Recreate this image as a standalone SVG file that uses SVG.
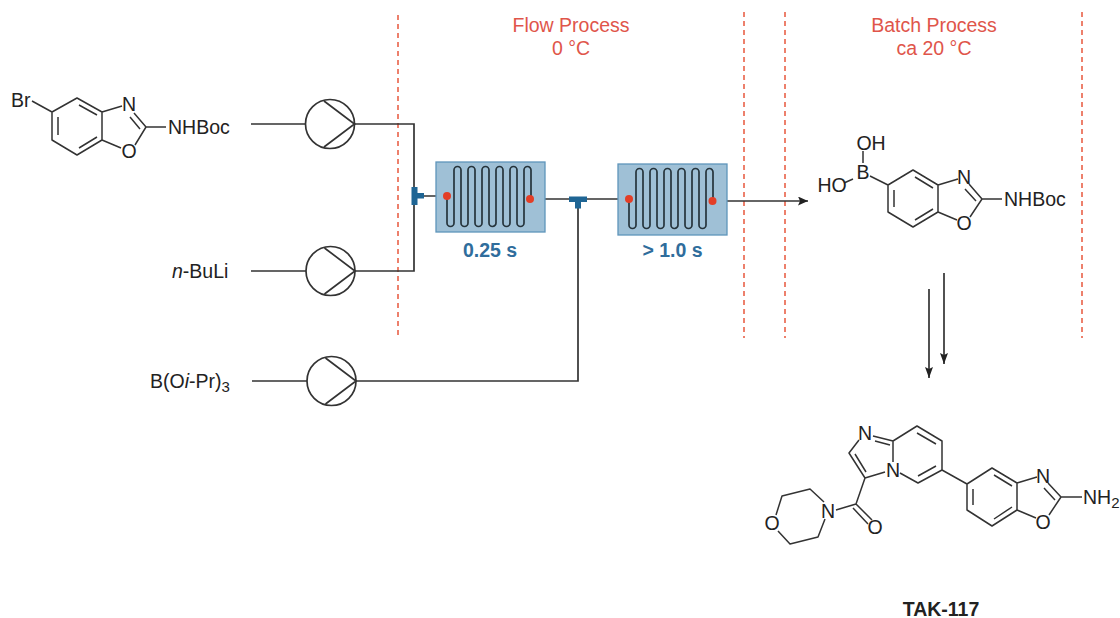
<svg xmlns="http://www.w3.org/2000/svg" width="1120" height="618" viewBox="0 0 1120 618">
<defs>
<marker id="ah" markerUnits="userSpaceOnUse" markerWidth="11" markerHeight="9" refX="10" refY="4.5" orient="auto"><path d="M0 0L10 4.5L0 9L2 4.5Z" fill="#222"/></marker>
<marker id="ad" markerUnits="userSpaceOnUse" markerWidth="12" markerHeight="9" refX="11" refY="4.5" orient="auto"><path d="M0 0.500L11 4.500L0 8.500L2 4.500Z" fill="#222"/></marker>
<path id="serp" d="M0 0V27a3.5 3.5 0 0 0 7 0V-26a3.5 3.5 0 0 1 7 0V27a3.5 3.5 0 0 0 7 0V-26a3.5 3.5 0 0 1 7 0V27a3.5 3.5 0 0 0 7 0V-26a3.5 3.5 0 0 1 7 0V27a3.5 3.5 0 0 0 7 0V-26a3.5 3.5 0 0 1 7 0V27a3.5 3.5 0 0 0 7 0V-26a3.5 3.5 0 0 1 7 0V27a3.5 3.5 0 0 0 7 0V-26a3.5 3.5 0 0 1 7 0V3"/>
<g id="pump"><circle r="24.5" fill="#fff" stroke="#333" stroke-width="1.7"/><path d="M-6 -23L24.5 0L-6 23" fill="none" stroke="#333" stroke-width="1.7"/></g>
</defs>
<style>
text{font-family:"Liberation Sans",Arial,sans-serif;fill:#222}
.t{font-size:19.5px}
.a{font-size:19.5px;text-anchor:middle}
.red{font-size:19.5px;text-anchor:middle;fill:#e0554a}
.blue{font-size:19.5px;font-weight:bold;text-anchor:middle;fill:#2f6d9c}
.dash{stroke:#e8573c;stroke-width:1.5;stroke-dasharray:5 4;fill:none}
.line{stroke:#333;stroke-width:1.7;fill:none}
.bond{stroke:#333;stroke-width:1.5;fill:none;stroke-linejoin:round}
.box{fill:#9fc0d6;stroke:#5f95bb;stroke-width:1.3}
.coil{fill:none;stroke:#26343c;stroke-width:1.7}
.dot{fill:#e33e27}
.tee{fill:#1f6594}
</style>
<rect width="1120" height="618" fill="#fff"/>

<g id="boundaries">
<line class="dash" x1="398" y1="15" x2="398" y2="338"/>
<line class="dash" x1="744" y1="12" x2="744" y2="338"/>
<line class="dash" x1="785" y1="12" x2="785" y2="338"/>
<line class="dash" x1="1082" y1="12" x2="1082" y2="338"/>
</g>
<g id="flow-label"><text class="red" x="571" y="32">Flow Process</text><text class="red" x="571" y="55">0 °C</text></g>
<g id="batch-label"><text class="red" x="934" y="32">Batch Process</text><text class="red" x="934" y="55">ca 20 °C</text></g>

<g id="connectors">
<path class="line" d="M251 124H306M355 124H414V271H355M251 271H306"/>
<path class="line" d="M252 381H307M356 381H578V199"/>
<path class="line" d="M417 196H447M530 199H629"/>
<path class="line" d="M713 201H808" marker-end="url(#ah)"/>
<path class="line" d="M944 273V364" stroke-width="1.5" marker-end="url(#ad)"/>
<path class="line" d="M929 289V378" stroke-width="1.5" marker-end="url(#ad)"/>
</g>

<g id="sm-bromide">
<path class="bond" d="M52 112L77 98L102 112V140L77 155L52 140ZM58 117V135M79 105L97 115M79 148L97 137M102 112L122 106M102 140L121 148M134 113L146 127L135 145M130 117L140 129M146 127H166M32 101L52 112"/>
<text class="t" x="11" y="107">Br</text><text class="a" x="129" y="111">N</text><text class="a" x="129" y="158">O</text><text class="t" x="168" y="134">NHBoc</text>
</g>
<g id="reagent-nBuLi"><text class="t" x="172" y="278"><tspan font-style="italic">n</tspan>-BuLi</text></g>
<g id="reagent-borate"><text class="t" x="150" y="388">B(O<tspan font-style="italic">i</tspan>-Pr)<tspan font-size="15" dy="4">3</tspan></text></g>

<g id="pump-1"><use href="#pump" x="330" y="124"/></g>
<g id="pump-2"><use href="#pump" x="330.500" y="271"/></g>
<g id="pump-3"><use href="#pump" x="331.500" y="381"/></g>

<g id="tee-1"><rect class="tee" x="411.500" y="187" width="6" height="18"/><rect class="tee" x="416" y="193" width="8" height="5.500"/></g>
<g id="tee-2"><rect class="tee" x="569" y="196.500" width="18" height="5.500"/><rect class="tee" x="575" y="200" width="6" height="8.500"/></g>

<g id="reactor-1">
<rect class="box" x="436" y="162" width="109" height="70"/>
<use href="#serp" x="447" y="196" class="coil"/>
<circle class="dot" cx="447" cy="196" r="4"/><circle class="dot" cx="530" cy="199" r="4"/>
<text class="blue" x="490" y="257">0.25 s</text>
</g>
<g id="reactor-2">
<rect class="box" x="618" y="164" width="109" height="71"/>
<use href="#serp" x="629" y="198" class="coil"/>
<circle class="dot" cx="629" cy="199" r="4"/><circle class="dot" cx="712.500" cy="201" r="4"/>
<text class="blue" x="672.500" y="257">&gt; 1.0 s</text>
</g>

<g id="boronic-acid">
<path class="bond" d="M888 185L913 170L938 185V212L913 227L888 212ZM894 190V207M915 177L933 188M915 220L933 209M938 185L958 179M938 212L957 220M969 184L982 199L970 217M965 189L976 201M982 199H1002M870 176L888 185M863 163V151M853 179L844 183"/>
<text class="a" x="863" y="179">B</text><text class="a" x="871" y="150">OH</text><text class="a" x="832" y="192">HO</text>
<text class="a" x="964" y="184">N</text><text class="a" x="964" y="230">O</text><text class="t" x="1004" y="206">NHBoc</text>
</g>

<g id="tak-117">
<path class="bond" d="M893 441L917 426L942 441V470L918 483L900 473M893 441V462M917 433L936 444M918 476L936 466M873 436L893 441M875 441L890 445M859 440L849 453L865 478L885 472M855 454L866 472M865 478L856 504L872 520M853 508L868 524M856 504L836 510M942 470L967 484M967 484L992 468L1017 483V510L992 526L967 510ZM973 489V505M994 475L1012 486M994 519L1012 507M1017 483L1037 477M1017 510L1036 518M1048 483L1061 497L1049 515M1044 488L1055 500M1061 497H1082M824 502L810 489L782 496L776 515M778 531L790 544L818 537L825 519"/>
<text class="a" x="865" y="440">N</text><text class="a" x="893" y="477">N</text><text class="a" x="875" y="534">O</text><text class="a" x="828" y="518">N</text><text class="a" x="772" y="530">O</text><text class="a" x="1043" y="483">N</text><text class="a" x="1043" y="529">O</text>
<text class="t" x="1083" y="504">NH<tspan font-size="15" dy="4">2</tspan></text>
<text x="941" y="616" font-size="19.500" font-weight="bold" text-anchor="middle">TAK-117</text>
</g>
</svg>
